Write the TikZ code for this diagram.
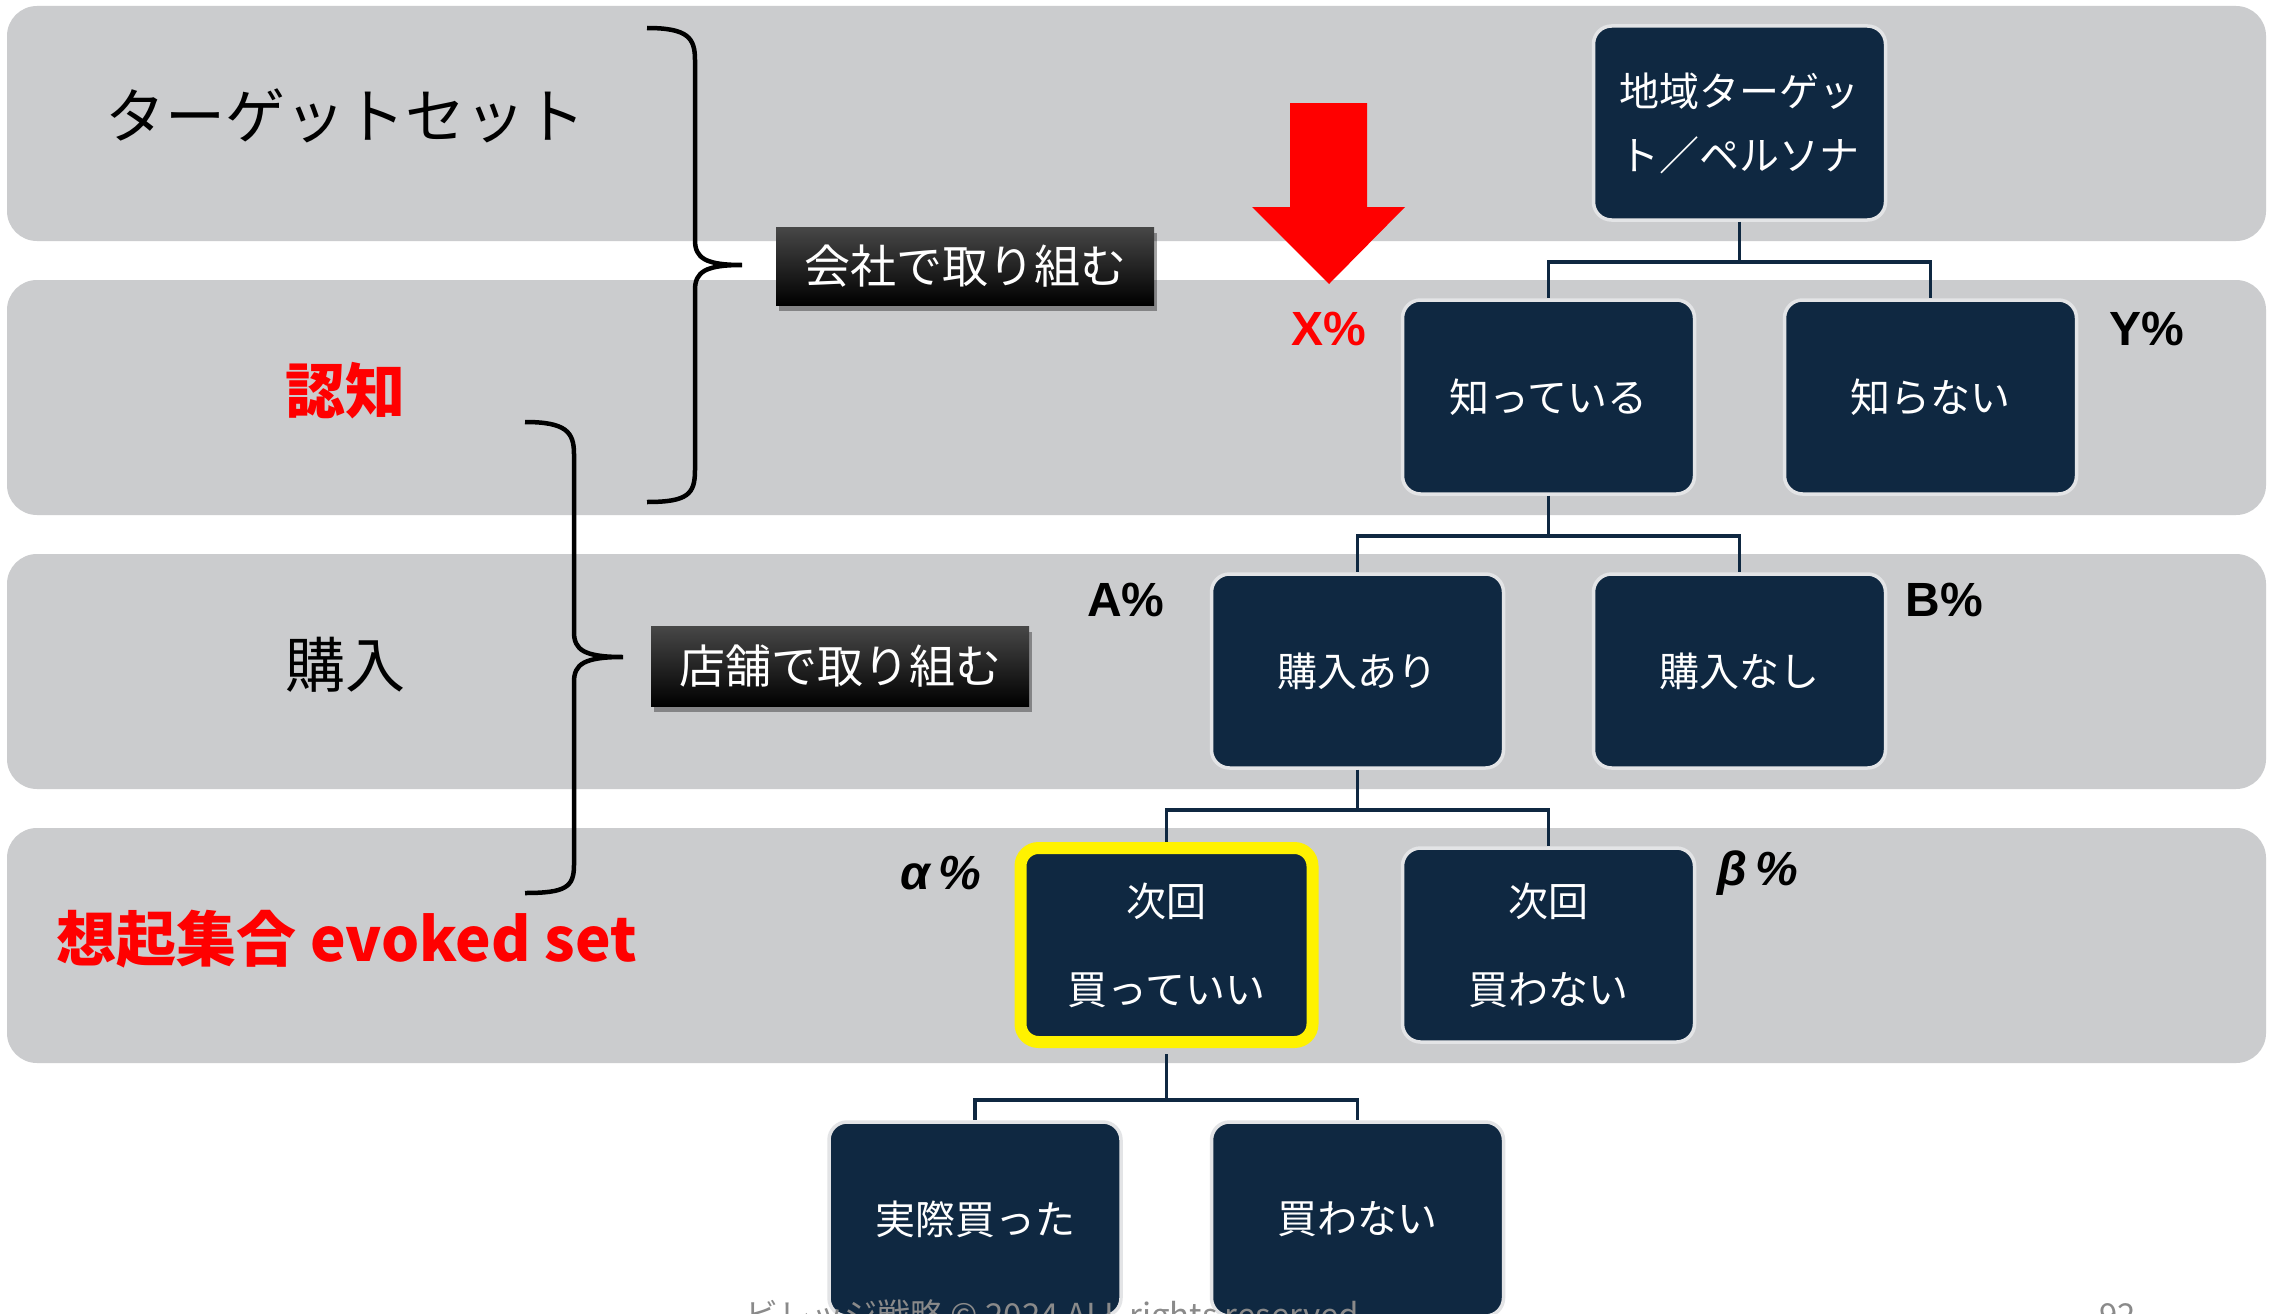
\documentclass[tikz,border=0pt]{standalone}
\usepackage{fontspec}
\setmainfont{Noto Sans CJK JP}
\newfontfamily\jp{Noto Sans CJK JP}
\newfontfamily\lat{Liberation Sans}
\usetikzlibrary{shadows}
\definecolor{navy}{HTML}{0F2841}
\definecolor{bandgray}{HTML}{CBCCCE}
\definecolor{boxline}{HTML}{E3E4E6}
\definecolor{foot}{HTML}{8A8A8A}
\definecolor{pred}{HTML}{FF0000}
\tikzset{
  band/.style={fill=bandgray, rounded corners=30pt},
  box/.style={draw=boxline, line width=3.5pt, fill=navy, rounded corners=18pt,
    minimum width=292pt, minimum height=194pt, inner sep=0pt, text=white,
    align=center, font=\jp\fontsize{40}{64}\selectfont},
  hibox/.style={box, draw=yellow, line width=12pt, font=\jp\fontsize{40}{88}\selectfont},
  twobox/.style={box, font=\jp\fontsize{40}{88}\selectfont},
  conn/.style={draw=navy, line width=3.5pt},
  pct/.style={font=\lat\bfseries\fontsize{48}{56}\selectfont, text=black},
  gpct/.style={font=\lat\bfseries\itshape\fontsize{48}{56}\selectfont, text=black},
  rowlabel/.style={font=\jp\fontsize{60}{68}\selectfont, text=black},
  redlabel/.style={font=\jp\bfseries\fontsize{60}{68}\selectfont, text=pred},
  tag/.style={minimum width=378pt, minimum height=78pt, inner sep=0pt,
    top color=black!72, bottom color=black, text=white,
    font=\jp\fontsize{46}{52}\selectfont,
    drop shadow={shadow xshift=3pt, shadow yshift=-6pt, opacity=0.35, fill=black}},
  bracepath/.style={draw=black, line width=4.5pt},
  footer/.style={font=\jp\fontsize{33}{36}\selectfont, text=foot, inner sep=0pt}
}
\begin{document}
\begin{tikzpicture}[x=1pt,y=-1pt]
\useasboundingbox (0,0) rectangle (2273,1314);
\clip (0,0) rectangle (2273,1314);
\fill[white] (0,0) rectangle (2273,1314);
% bands
\fill[band] (7,6) rectangle (2266,241);
\fill[band] (7,280) rectangle (2266,515);
\fill[band] (7,554) rectangle (2266,789);
\fill[band] (7,828) rectangle (2266,1063);
% row labels
\node[rowlabel] (lt) at (345,116) {ターゲットセット};
\node[redlabel] (lr) at (345,391) {認知};
\node[rowlabel] (lb) at (345,665) {購入};
\node[redlabel, font=\jp\bfseries\fontsize{60}{68}\selectfont] (le) at (347,939) {想起集合 evoked set};
% braces
\draw[bracepath] (647,28) .. controls (688,28) and (695,38) .. (695,60) -- (695,240)
  .. controls (695,258) and (705,265) .. (742,265)
  .. controls (705,265) and (695,272) .. (695,290) -- (695,470)
  .. controls (695,494) and (688,502) .. (647,502);
\draw[bracepath] (525,422) .. controls (566,422) and (574,432) .. (574,454) -- (574,632)
  .. controls (574,650) and (584,657) .. (623,657)
  .. controls (584,657) and (574,664) .. (574,682) -- (574,865)
  .. controls (574,887) and (566,893) .. (525,893);
% tags
\node[tag] (t1) at (965,266) {会社で取り組む};
\node[tag, minimum height=80pt] (t2) at (840,666) {店舗で取り組む};
% red arrow
\fill[pred] (1290,103) -- (1367,103) -- (1367,207) -- (1405,207) -- (1329,284) -- (1252,207) -- (1290,207) -- cycle;
% nodes
\node[box] (n0) at (1739.5,123) {地域ターゲッ\\ト／ペルソナ};
\node[box] (n1) at (1548.5,397) {知っている};
\node[box] (n2) at (1930.5,397) {知らない};
\node[box] (n3) at (1357.5,671) {購入あり};
\node[box] (n4) at (1739.5,671) {購入なし};
\node[hibox] (n5) at (1166.5,945) {次回\\買っていい};
\node[twobox] (n6) at (1548.5,945) {次回\\買わない};
\node[box] (n7) at (975,1219) {実際買った};
\node[box] (n8) at (1357.5,1219) {買わない};
% connectors
\draw[conn] (n0.south) -- ++(0,40) -| (n1.north);
\draw[conn] (n0.south) -- ++(0,40) -| (n2.north);
\draw[conn] (n1.south) -- ++(0,40) -| (n3.north);
\draw[conn] (n1.south) -- ++(0,40) -| (n4.north);
\draw[conn] (n3.south) -- ++(0,40) -| (n5.north);
\draw[conn] (n3.south) -- ++(0,40) -| (n6.north);
\draw[conn] ([yshift=-6pt]n5.south) -- ++(0,46) -| (n7.north);
\draw[conn] ([yshift=-6pt]n5.south) -- ++(0,46) -| (n8.north);
% percentages
\node[pct, text=pred] (px) at (1329,329) {X\%};
\node[pct] (py) at (2147,329) {Y\%};
\node[pct] (pa) at (1126,600) {A\%};
\node[pct] (pb) at (1944,600) {B\%};
\node[gpct] (pal) at (941,873) {α\,\%};
\node[gpct] (pbe) at (1758,873) {β\,\%};
% footer
\node[footer, anchor=base west] (f1) at (745,1327) {ビレッジ戦略 © 2024 ALL rights reserved};
\node[footer, anchor=base west] (f2) at (2099,1327) {92};
\end{tikzpicture}
\end{document}
